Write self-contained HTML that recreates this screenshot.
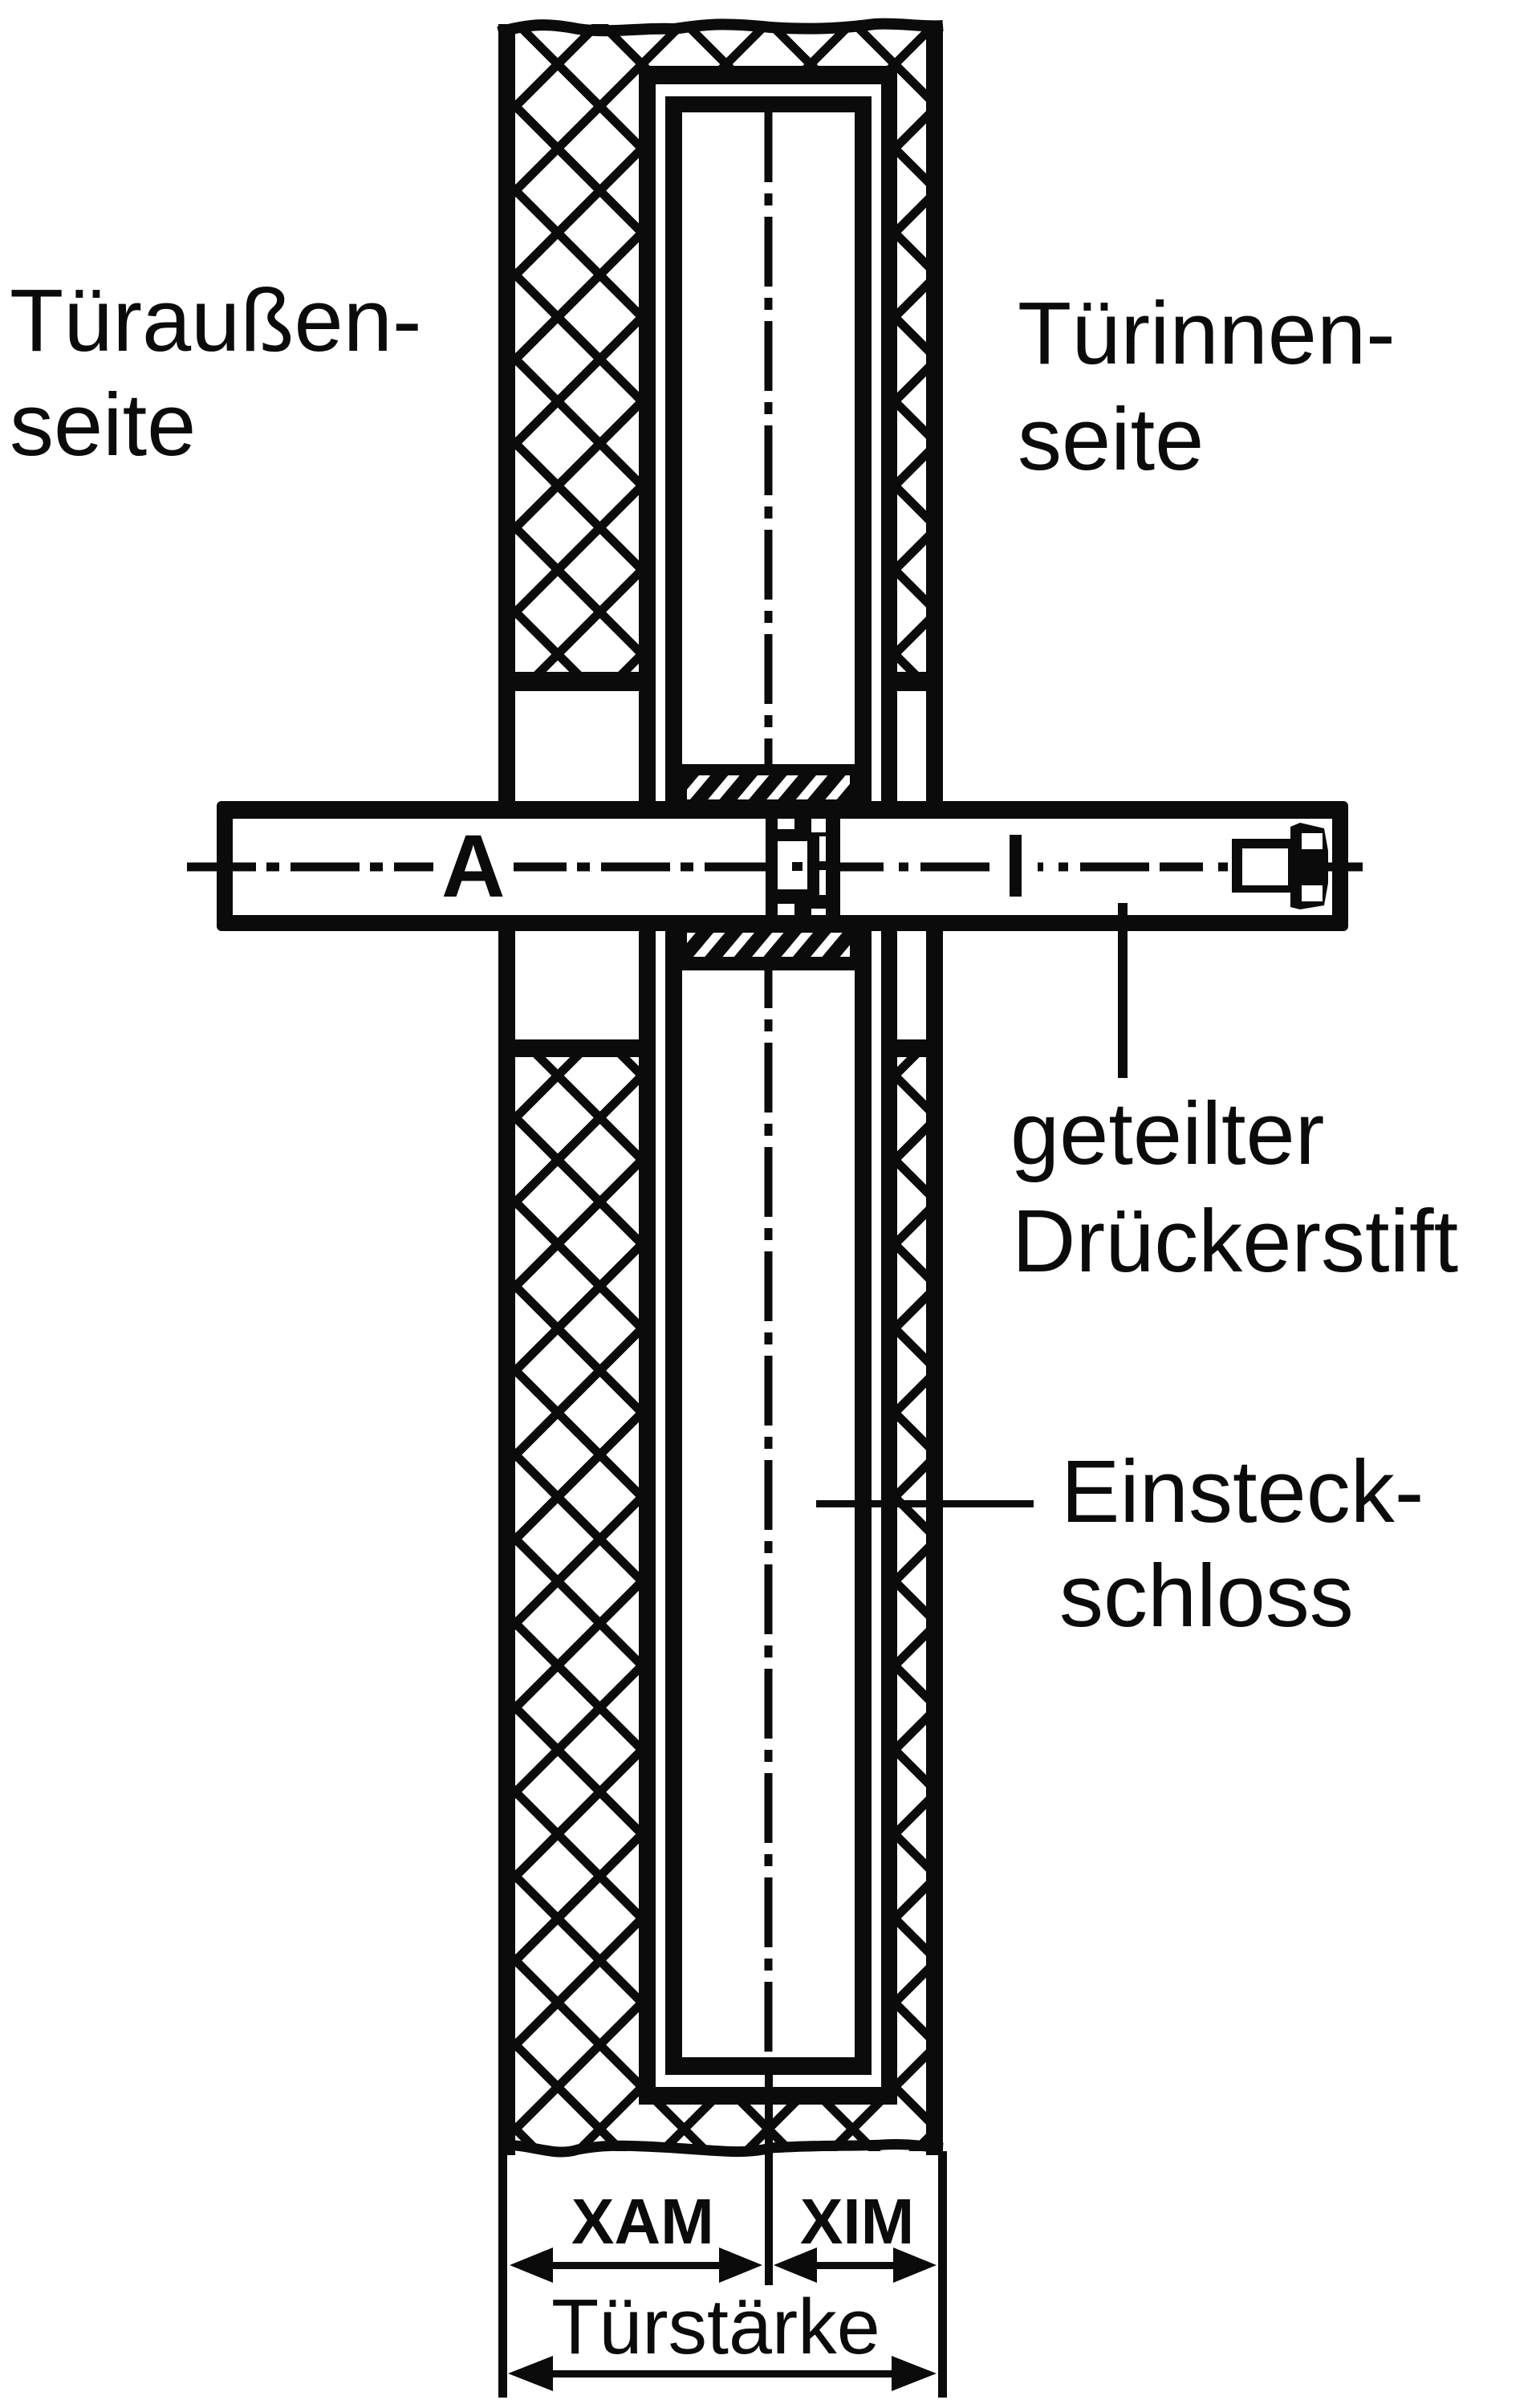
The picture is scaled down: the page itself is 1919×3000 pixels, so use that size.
<!DOCTYPE html>
<html><head><meta charset="utf-8"><style>
html,body{margin:0;padding:0;background:#fff;}
svg{display:block;}
text{font-family:"Liberation Sans",sans-serif;fill:#0a0b0a;}
</style></head><body>
<svg width="1919" height="3000" viewBox="0 0 1919 3000" xmlns="http://www.w3.org/2000/svg">
<defs>
<pattern id="xh" patternUnits="userSpaceOnUse" x="65" y="80" width="105" height="105">
<path d="M-5,-5 L110,110 M110,-5 L-5,110" stroke="#0a0b0a" stroke-width="11" fill="none"/>
</pattern>
<pattern id="sl" patternUnits="userSpaceOnUse" width="28" height="28" patternTransform="rotate(40)">
<rect x="0" y="0" width="11" height="28" fill="#fff"/>
</pattern>
<clipPath id="hc">
<rect x="642" y="30" width="512" height="52"/>
<rect x="642" y="30" width="154" height="810"/>
<rect x="1118" y="30" width="36" height="810"/>
<rect x="642" y="1315" width="154" height="1370"/>
<rect x="1118" y="1315" width="36" height="1370"/>
<rect x="642" y="2620" width="512" height="60"/>
</clipPath>
</defs>
<g fill="#0a0b0a">
<rect x="600" y="0" width="600" height="2700" fill="url(#xh)" clip-path="url(#hc)"/>
<rect x="600" y="0" width="600" height="30" fill="#fff"/>
<rect x="600" y="2680" width="600" height="30" fill="#fff"/>
<path d="M621,40 C660,30 680,28 720,36 C760,42 800,34 840,36 C880,30 900,28 960,34 C1020,38 1060,34 1090,30 C1120,28 1150,34 1175,32" stroke="#0a0b0a" stroke-width="14" fill="none"/>
<path d="M625,2673 C660,2670 690,2688 720,2678 C760,2670 800,2674 840,2676 C900,2680 930,2684 960,2676 C1020,2672 1070,2674 1100,2672 C1130,2670 1150,2674 1175,2676" stroke="#0a0b0a" stroke-width="13" fill="none"/>
<rect x="642" y="837" width="154" height="24"/>
<rect x="1118" y="837" width="36" height="24"/>
<rect x="642" y="1295" width="154" height="22"/>
<rect x="1118" y="1295" width="36" height="22"/>
<rect x="621" y="30" width="21" height="2655"/>
<rect x="621" y="2680" width="11" height="307"/>
<rect x="1154" y="30" width="21" height="2655"/>
<rect x="1169" y="2680" width="11" height="307"/>
<rect x="796" y="82" width="322" height="2540"/>
<rect x="817" y="105" width="281" height="2495" fill="#fff"/>
<rect x="829" y="120" width="257" height="2465"/>
<rect x="850" y="140" width="215" height="812" fill="#fff"/>
<rect x="850" y="1209" width="215" height="1354" fill="#fff"/>
<rect x="850" y="952" width="215" height="46"/>
<rect x="850" y="1160" width="215" height="49"/>
<rect x="856" y="966" width="203" height="30" fill="url(#sl)"/>
<rect x="856" y="1162" width="203" height="30" fill="url(#sl)"/>
<line x1="957.5" y1="140" x2="957.5" y2="952" stroke="#0a0b0a" stroke-width="10" stroke-dasharray="87 14 15 14"/>
<line x1="957.5" y1="1209" x2="957.5" y2="2563" stroke="#0a0b0a" stroke-width="10" stroke-dasharray="87 14 15 14" stroke-dashoffset="40"/>
<rect x="953" y="2563" width="10" height="284"/>
<rect x="270" y="998" width="1410" height="162" rx="6"/>
<rect x="290" y="1020" width="1370" height="120" fill="#fff"/>
<line x1="230" y1="1080" x2="954" y2="1080" stroke="#0a0b0a" stroke-width="11" stroke-dasharray="86 13 16 14" stroke-dashoffset="-3"/>
<line x1="1047" y1="1080" x2="1715" y2="1080" stroke="#0a0b0a" stroke-width="11" stroke-dasharray="54 19 12 15 86 13" />
<rect x="540" y="1030" width="100" height="100" fill="#fff"/>
<rect x="1238" y="1030" width="55" height="100" fill="#fff"/>
<rect x="954" y="1020" width="93" height="120"/>
<rect x="969" y="1020" width="21" height="13" fill="#fff"/>
<rect x="1011" y="1020" width="18" height="17" fill="#fff"/>
<rect x="969" y="1048" width="37" height="60" fill="#fff"/>
<rect x="987" y="1074" width="13" height="11"/>
<rect x="1021" y="1042" width="8" height="31" fill="#fff"/>
<rect x="1021" y="1084" width="8" height="31" fill="#fff"/>
<rect x="969" y="1126" width="21" height="14" fill="#fff"/>
<rect x="1011" y="1132" width="18" height="8" fill="#fff"/>
<rect x="1535" y="1045" width="77" height="67"/>
<rect x="1548" y="1057" width="57" height="46" fill="#fff"/>
<path d="M1608,1030 L1620,1025 L1650,1032 L1655,1060 L1655,1100 L1650,1128 L1620,1133 L1608,1130 Z"/>
<rect x="1622" y="1038" width="26" height="20" fill="#fff"/>
<rect x="1622" y="1103" width="26" height="20" fill="#fff"/>
<text x="550" y="1117" font-size="110" font-weight="bold">A</text>
<rect x="1258" y="1040" width="15" height="77"/>
<rect x="1393" y="1125" width="12" height="218"/>
<rect x="1017" y="1869" width="271" height="9"/>
<rect x="680" y="2818" width="230" height="9"/>
<polygon points="635,2822 689,2800 689,2844"/>
<polygon points="950,2822 896,2800 896,2844"/>
<rect x="1005" y="2818" width="120" height="9"/>
<polygon points="964,2822 1018,2800 1018,2844"/>
<polygon points="1167,2822 1113,2800 1113,2844"/>
<rect x="680" y="2953" width="440" height="9"/>
<polygon points="633,2957 689,2935 689,2979"/>
<polygon points="1167,2957 1111,2935 1111,2979"/>
</g>
<text x="12" y="437" font-size="110">Türaußen-</text>
<text x="12" y="567" font-size="110">seite</text>
<text x="1268" y="453" font-size="110">Türinnen-</text>
<text x="1268" y="585" font-size="110">seite</text>
<text x="1259" y="1450" font-size="110">geteilter</text>
<text x="1261" y="1584" font-size="110">Drückerstift</text>
<text x="1322" y="1896" font-size="110">Einsteck-</text>
<text x="1320" y="2026" font-size="110">schloss</text>
<text x="712" y="2795" font-size="80" font-weight="bold">XAM</text>
<text x="997" y="2795" font-size="80" font-weight="bold">XIM</text>
<text x="687" y="2932" font-size="97">Türstärke</text>
</svg>
</body></html>
